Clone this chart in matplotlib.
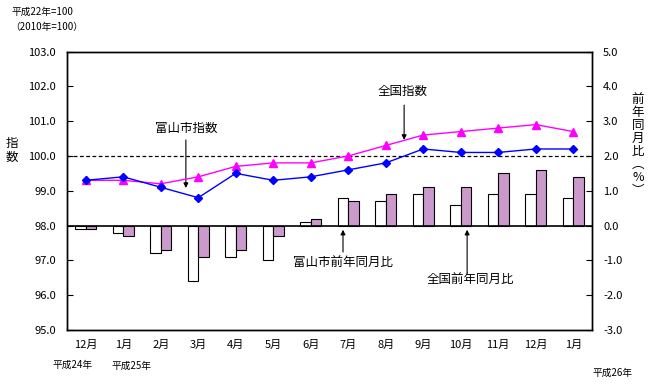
import numpy as np
import matplotlib
matplotlib.use("Agg")
import matplotlib.pyplot as plt

plt.rcParams["font.family"] = ["Noto Sans CJK JP", "DejaVu Sans"]

# data
months = ["12月", "1月", "2月", "3月", "4月", "5月", "6月",
          "7月", "8月", "9月", "10月", "11月", "12月", "1月"]
toyama_index = [99.3, 99.4, 99.1, 98.8, 99.5, 99.3, 99.4,
                99.6, 99.8, 100.2, 100.1, 100.1, 100.2, 100.2]
national_index = [99.3, 99.3, 99.2, 99.4, 99.7, 99.8, 99.8,
                  100.0, 100.3, 100.6, 100.7, 100.8, 100.9, 100.7]
toyama_yoy = [-0.1, -0.2, -0.8, -1.6, -0.9, -1.0, 0.1,
              0.8, 0.7, 0.9, 0.6, 0.9, 0.9, 0.8]
national_yoy = [-0.1, -0.3, -0.7, -0.9, -0.7, -0.3, 0.2,
                0.7, 0.9, 1.1, 1.1, 1.5, 1.6, 1.4]
left_ticks = [95.0, 96.0, 97.0, 98.0, 99.0, 100.0, 101.0, 102.0, 103.0]
right_ticks = [-3.0, -2.0, -1.0, 0.0, 1.0, 2.0, 3.0, 4.0, 5.0]

fs = 8
x = np.arange(len(months))
w = 0.28

fig = plt.figure(figsize=(6.52, 3.9), dpi=100)
ax = fig.add_axes([67 / 652, 60 / 390, 525 / 652, 278.5 / 390])
ax2 = ax.twinx()

# bars on the right axis
ax2.bar(x - w / 2, toyama_yoy, width=w, facecolor="white",
        edgecolor="black", linewidth=0.8, zorder=2)
ax2.bar(x + w / 2, national_yoy, width=w, facecolor="#CC99CC",
        edgecolor="black", linewidth=0.8, zorder=2)
ax2.axhline(0, color="black", linewidth=1.2, zorder=3)
ax2.set_ylim(-3, 5)
ax2.set_yticks(right_ticks)
ax2.set_yticklabels([f"{v:.1f}" for v in right_ticks], fontsize=fs)

# lines on the left axis, drawn above the bars
ax.set_zorder(ax2.get_zorder() + 1)
ax.patch.set_visible(False)
ax.axhline(100.0, color="black", linestyle=(0, (3, 2)), linewidth=0.9)
ax.plot(x, national_index, color="#FF00FF", marker="^", markersize=6,
        linewidth=1.0, zorder=4)
ax.plot(x, toyama_index, color="#0000FF", marker="D", markersize=4.5,
        linewidth=1.0, zorder=5)
ax.set_ylim(95, 103)
ax.set_xlim(-0.5, len(months) - 0.5)
ax.set_yticks(left_ticks)
ax.set_yticklabels([f"{v:.1f}" for v in left_ticks], fontsize=fs)
ax.set_xticks(x)
ax.set_xticklabels(months, fontsize=fs)

ax.tick_params(axis="y", direction="in", length=4, pad=8)
ax.tick_params(axis="x", length=0, pad=7)
ax2.tick_params(axis="y", direction="in", length=4, pad=8)
for a in (ax, ax2):
    for s in a.spines.values():
        s.set_linewidth(1.0)

# axis titles
fig.text(12 / 652, 1 - 150 / 390, "指\n数", fontsize=9, ha="center",
         va="center", linespacing=1.1)
fig.text(638 / 652, 1 - 145 / 390, "前\n年\n同\n月\n比\n︵\n%\n︶", fontsize=9,
         ha="center", va="center", linespacing=1.0)
fig.text(12 / 652, 1 - 12 / 390, "平成22年=100", fontsize=7, va="center")
fig.text(10 / 652, 1 - 27 / 390, "（2010年=100）", fontsize=7, va="center")

# era labels
fig.text(73 / 652, 1 - 365 / 390, "平成24年", fontsize=7, ha="center", va="center")
fig.text(132 / 652, 1 - 366 / 390, "平成25年", fontsize=7, ha="center", va="center")
fig.text(613 / 652, 1 - 373 / 390, "平成26年", fontsize=7, ha="center", va="center")

# annotations
arrow = dict(arrowstyle="-|>", color="black", linewidth=0.8, mutation_scale=7,
             shrinkA=0, shrinkB=0)
ax.text(2.67, 100.8, "富山市指数", ha="center", va="center", fontsize=9)
ax.annotate("", xy=(2.67, 99.08), xytext=(2.67, 100.46), arrowprops=arrow)
ax.text(8.45, 101.84, "全国指数", ha="center", va="center", fontsize=9)
ax.annotate("", xy=(8.49, 100.46), xytext=(8.49, 101.46), arrowprops=arrow)
ax2.text(6.86, -1.07, "富山市前年同月比", ha="center", va="center", fontsize=9)
ax2.annotate("", xy=(6.86, -0.12), xytext=(6.86, -0.76), arrowprops=arrow)
ax2.text(10.25, -1.56, "全国前年同月比", ha="center", va="center", fontsize=9)
ax2.annotate("", xy=(10.17, -0.12), xytext=(10.17, -1.36), arrowprops=arrow)

fig.savefig("out.png", dpi=100)
